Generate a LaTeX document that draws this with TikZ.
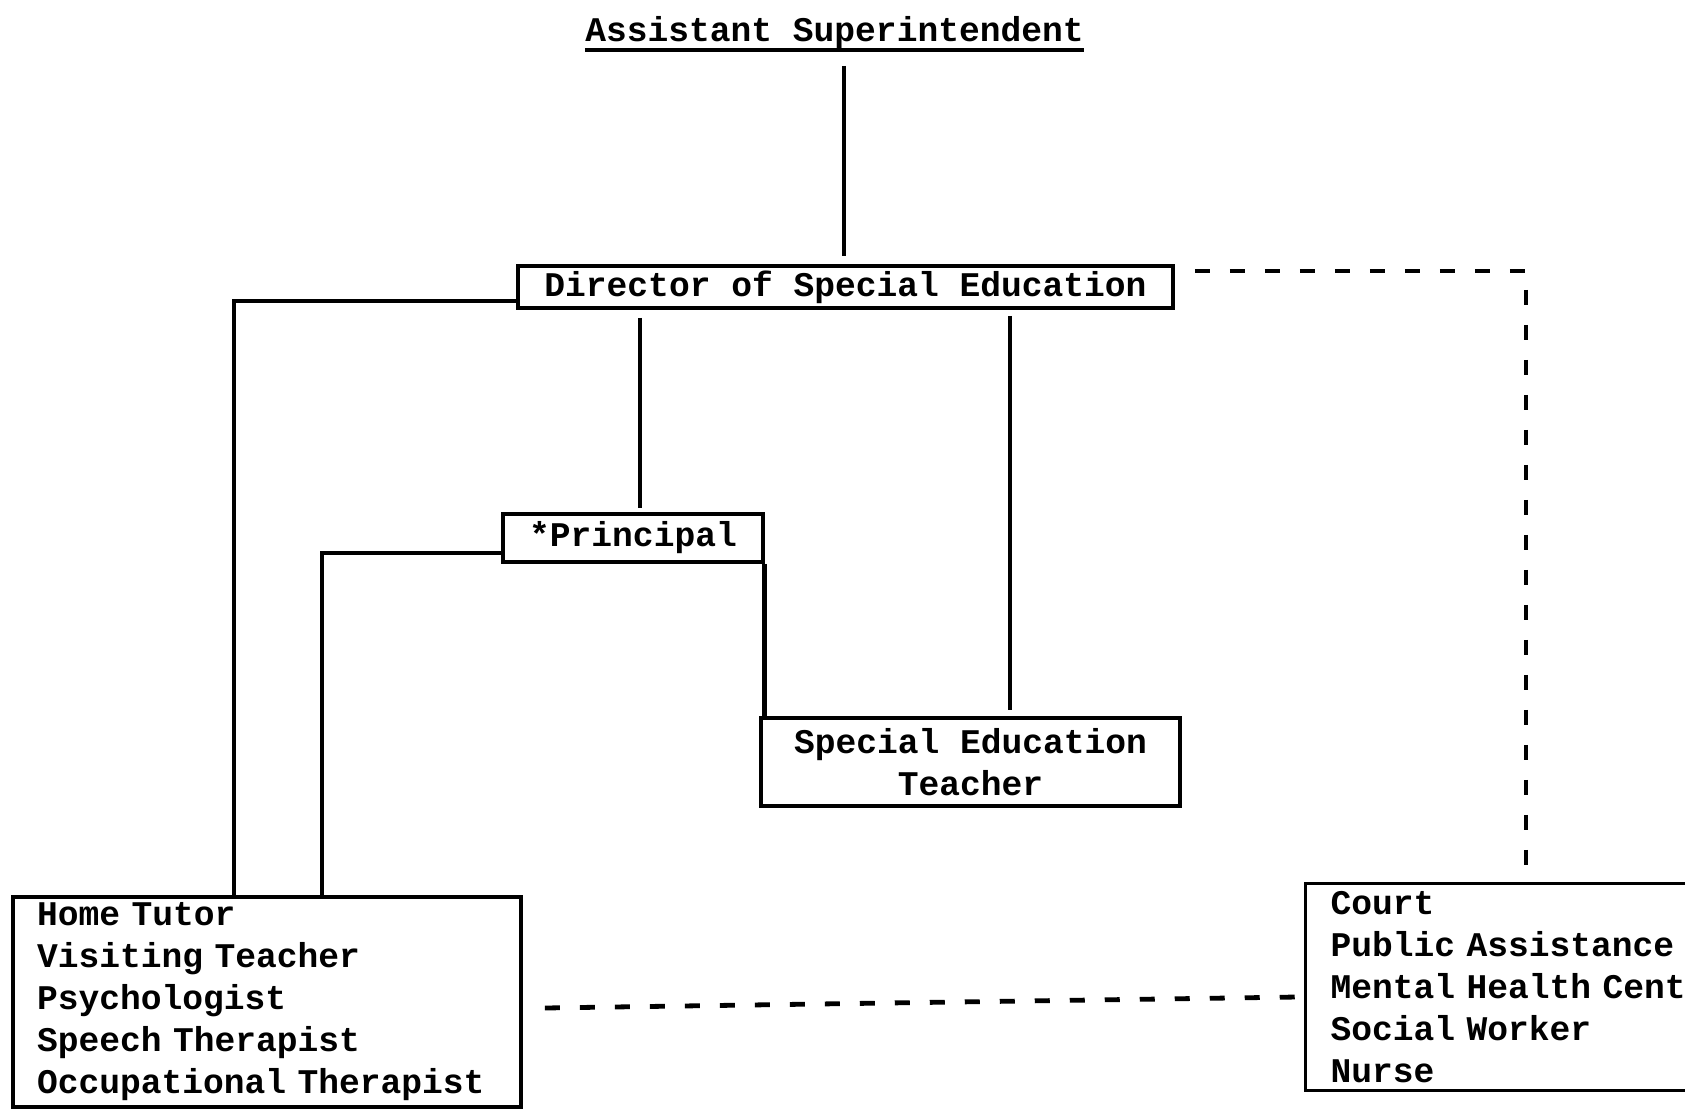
\documentclass[tikz,border=0pt]{standalone}
\usepackage{fontspec}
\setmonofont{Liberation Mono}
\begin{document}
\begin{tikzpicture}[x=0.5pt,y=-0.5pt,
  every node/.style={font=\ttfamily\bfseries\fontsize{17.3}{21}\selectfont},
  orgbox/.style={draw, line width=1.8pt, inner xsep=0pt, inner ysep=2pt},
  conn/.style={line width=2pt},
  dashconn/.style={line width=2.4pt, dash pattern=on 7.5pt off 10pt}]
\useasboundingbox (0,0) rectangle (1685,1118);
\fill[white] (0,0) rectangle (1685,1118);
\clip (0,0) rectangle (1685,1118);

\node[inner sep=0pt, anchor=base] (as) at (834.5,42) {Assistant Superintendent};
\draw[conn] ([yshift=-4pt]as.base west) -- ([yshift=-4pt]as.base east);

\node[orgbox, minimum width=327.5pt, minimum height=21pt] (dir) at (845.5,287) {Director of Special Education};
\node[orgbox, minimum width=130pt, minimum height=24pt] (prin) at (633,538) {*Principal};
\node[orgbox, minimum width=209.5pt, minimum height=44pt, align=center] (se) at (970.5,762) {Special Education\\Teacher};
\node[orgbox, text width=230pt, inner xsep=12pt, minimum height=105pt, align=left] (staff) at (267,1002)
  {Home Tutor\\Visiting Teacher\\Psychologist\\Speech Therapist\\Occupational Therapist};
\node[orgbox, text width=222pt, inner xsep=12.5pt, minimum height=103.5pt, align=left] (agency) at (1552.5,987)
  {Court\\Public Assistance\\Mental Health Center\\Social Worker\\Nurse};

\coordinate (v1) at (844,0);
\coordinate (v2) at (640,0);
\coordinate (v3) at (1010,0);
\coordinate (v4) at (234,0);
\coordinate (v5) at (322,0);
\coordinate (v6) at (1526,0);

\draw[conn, shorten >=4pt] ([yshift=-12pt]v1 |- as.base) -- (v1 |- dir.north);
\draw[conn, shorten <=4pt, shorten >=2pt] (v2 |- dir.south) -- (v2 |- prin.north);
\draw[conn, shorten <=3pt, shorten >=3pt] (v3 |- dir.south) -- (v3 |- se.north);
\draw[conn] ([yshift=-7pt]dir.west) -| (v4 |- staff.north);
\draw[conn] ([yshift=-7.5pt]prin.west) -| (v5 |- staff.north);
\draw[conn, line width=2.4pt] (prin.south east) -- (prin.south east |- se.north);

\draw[dashconn] ([xshift=10pt,yshift=8pt]dir.east) -| ([yshift=7pt]v6 |- agency.north);
\draw[dashconn] ([xshift=11pt,yshift=-3pt]staff.east) -- ([xshift=-3pt,yshift=-5pt]agency.west);
\end{tikzpicture}
\end{document}
